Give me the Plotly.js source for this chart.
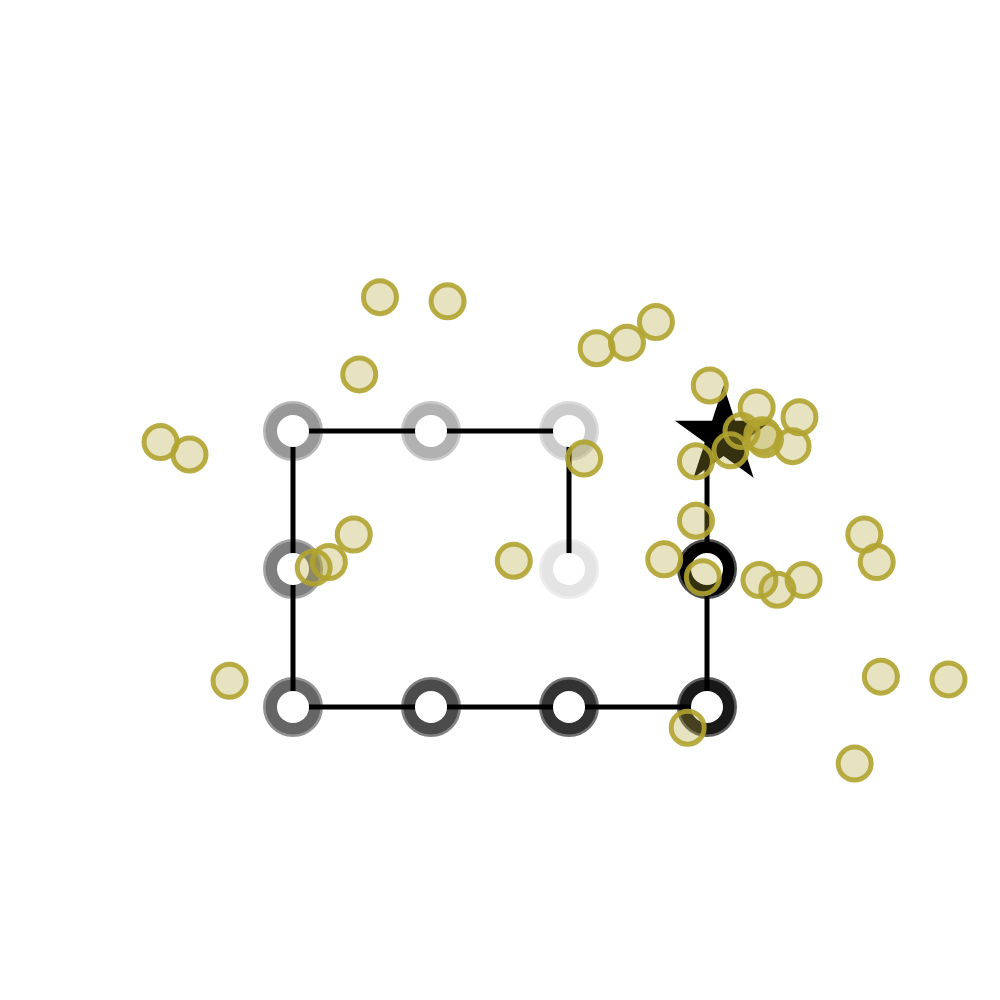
<!DOCTYPE html>
<html>
<head>
<meta charset="utf-8">
<script src="https://cdn.plot.ly/plotly-3.0.1.min.js"></script>
<style>
	html, body { margin: 0; padding: 0; background: #fff; }
	#chart { width: 1000px; height: 1000px; }
</style>
</head>
<body>
<div id="chart"></div>
<script>
// path of the walk, in order (first point is the faintest)
const path_x = [2, 2, 1, 0, 0, 0, 1, 2, 3, 3, 3];
const path_y = [1, 2, 2, 2, 1, 0, 0, 0, 0, 1, 2];
// one opacity per ring, the last path point carries no ring
const ring_opacity = [0.1, 0.2, 0.3, 0.4, 0.5, 0.6, 0.7, 0.8, 0.9, 1.0];

// end marker
const star_x = [3.12];
const star_y = [1.96];

// scattered points
const scatter_x = [
	0.63, 1.12, 0.48, -0.96, -0.75, 2.20, 2.42, 2.63, 3.02, 3.36,
	3.67, 3.25, 3.40, 3.42, 3.62, 3.17, 2.92, 2.11, 0.44, 0.26,
	0.15, 1.60, 2.69, 2.92, 2.97, 3.38, 3.51, 3.70, 4.14, 4.23,
	-0.46, 2.86, 4.26, 4.75, 4.07
];
const scatter_y = [
	2.97, 2.94, 2.41, 1.92, 1.83, 2.60, 2.64, 2.79, 2.33, 2.17,
	2.10, 2.00, 1.97, 1.94, 1.89, 1.86, 1.78, 1.80, 1.25, 1.05,
	1.01, 1.06, 1.07, 1.35, 0.94, 0.92, 0.85, 0.92, 1.25, 1.05,
	0.19, -0.15, 0.22, 0.20, -0.41
];

const ring_n = ring_opacity.length;

const chart_data = [
	{
		// grey rings, under the line
		x: path_x.slice(0, ring_n),
		y: path_y.slice(0, ring_n),
		mode: 'markers',
		type: 'scatter',
		marker: {
			symbol: 'circle',
			size: 55,
			color: 'rgb(0,0,0)',
			opacity: ring_opacity,
			line: {color: 'rgba(0,0,0,0.7)', width: 5}
		},
		hoverinfo: 'skip'
	},
	{
		x: path_x,
		y: path_y,
		mode: 'lines',
		type: 'scatter',
		line: {color: 'rgb(0,0,0)', width: 5},
		hoverinfo: 'skip'
	},
	{
		// white centres, on top of the line
		x: path_x.slice(0, ring_n),
		y: path_y.slice(0, ring_n),
		mode: 'markers',
		type: 'scatter',
		marker: {
			symbol: 'circle',
			size: 32,
			color: 'rgb(255,255,255)',
			line: {width: 0}
		},
		hoverinfo: 'skip'
	},
	{
		x: star_x,
		y: star_y,
		mode: 'markers',
		type: 'scatter',
		marker: {
			symbol: 'star',
			size: 73,
			color: 'rgb(0,0,0)',
			line: {width: 0}
		},
		hoverinfo: 'skip'
	},
	{
		x: scatter_x,
		y: scatter_y,
		mode: 'markers',
		type: 'scatter',
		marker: {
			symbol: 'circle',
			size: 33,
			color: 'rgba(176,163,48,0.3)',
			line: {color: 'rgba(176,163,48,0.9)', width: 5}
		},
		hoverinfo: 'skip'
	}
];

// 138 px per unit, grid centred on the page
const half_span = 500 / 138;

const chart_layout = {
	width: 1000,
	height: 1000,
	showlegend: false,
	hovermode: false,
	paper_bgcolor: '#fff',
	plot_bgcolor: '#fff',
	margin: {l: 0, r: 0, t: 0, b: 0},
	xaxis: {
		range: [1.5 - half_span, 1.5 + half_span],
		visible: false
	},
	yaxis: {
		range: [1.5 - half_span, 1.5 + half_span],
		visible: false
	}
};

Plotly.newPlot('chart', chart_data, chart_layout, {displayModeBar: false, staticPlot: true});
</script>
</body>
</html>
